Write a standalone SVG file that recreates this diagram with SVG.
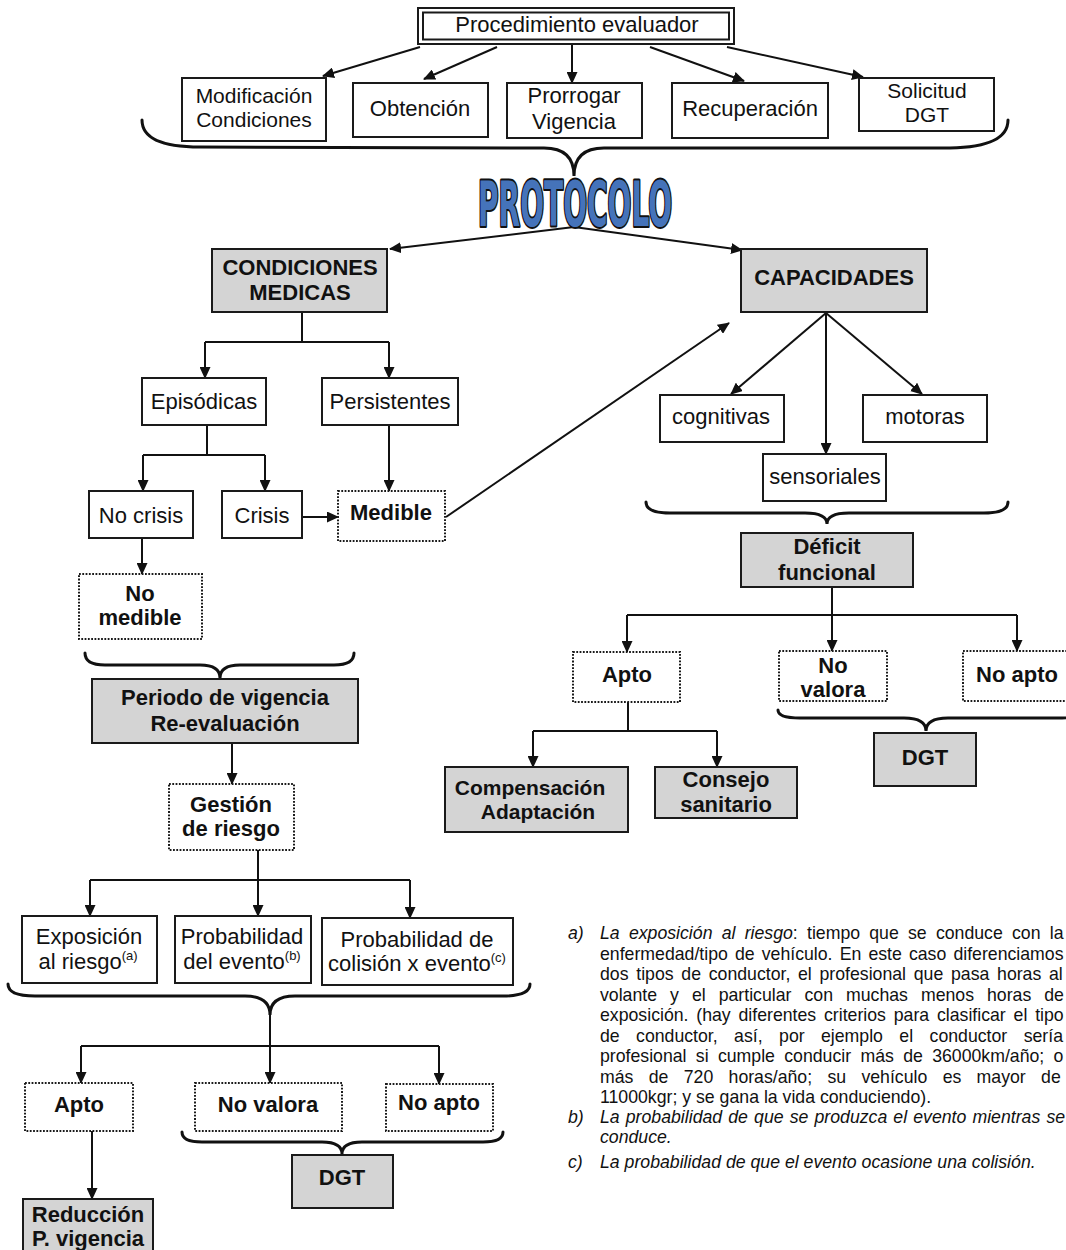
<svg xmlns="http://www.w3.org/2000/svg" width="1066" height="1250" viewBox="0 0 1066 1250">
  <style>
    .box { fill: #ffffff; stroke: #1a1a1a; stroke-width: 2; }
    .grey { fill: #d4d4d4; stroke: #1a1a1a; stroke-width: 2; }
    .dot { fill: #ffffff; stroke: #1a1a1a; stroke-width: 2; stroke-dasharray: 1.8 1.5; }
    .t { font-family: "Liberation Sans", Arial, sans-serif; font-size: 22px; fill: #111; text-anchor: middle; }
    .s { font-size: 21px; }
    .b { font-weight: bold; }
    .sup { font-size: 13px; }
    .ln { fill: none; stroke: #111; stroke-width: 2; }
    .ar { fill: none; stroke: #111; stroke-width: 2; marker-end: url(#head); }
    .brace { fill: none; stroke: #111; stroke-width: 3; stroke-linecap: round; }
    .note { font-family: "Liberation Sans", Arial, sans-serif; font-size: 17.7px; fill: #111; }
    .it { font-style: italic; }
  </style>
  <defs>
    <marker id="head" viewBox="0 0 12 11" refX="11" refY="5.5" markerWidth="12" markerHeight="11" markerUnits="userSpaceOnUse" orient="auto">
      <path d="M0,0 L12,5.5 L0,11 Z" fill="#111"/>
    </marker>
  </defs>
  <rect width="1066" height="1250" fill="#ffffff"/>

  <!-- connectors and braces -->
  <g id="connectors">
    <path class="ar" d="M420,47 L323,76"/>
    <path class="ar" d="M497,47 L424,79"/>
    <path class="ar" d="M572,44 L572,83"/>
    <path class="ar" d="M650,47 L744,81"/>
    <path class="ar" d="M727,47 L863,77"/>
    <path class="brace" d="M142,120 Q142,147 200,147 L544,148 Q574,148 574,176 Q574,148 604,148 L950,148 Q1008,147 1008,120"/>
    <path class="ar" d="M574,227 L390,249"/>
    <path class="ar" d="M574,227 L742,250"/>
    <path class="ln" d="M302,313 V342 M205,342 H389"/>
    <path class="ar" d="M205,342 V378"/>
    <path class="ar" d="M389,342 V378"/>
    <path class="ln" d="M207,425 V455 M143,455 H265"/>
    <path class="ar" d="M143,455 V491"/>
    <path class="ar" d="M265,455 V491"/>
    <path class="ar" d="M389,425 V491"/>
    <path class="ar" d="M302,517 H338"/>
    <path class="ar" d="M446,517 L729,323"/>
    <path class="ar" d="M142,538 V574"/>
    <path class="brace" d="M85,653 Q85,665 105,665 L200,665 Q220,665 220,678 Q220,665 240,665 L334,665 Q354,665 354,653"/>
    <path class="ar" d="M232,743 V784"/>
    <path class="ln" d="M258,850 V880 M90,880 H410"/>
    <path class="ar" d="M90,880 V916"/>
    <path class="ar" d="M258,880 V916"/>
    <path class="ar" d="M410,880 V918"/>
    <path class="brace" d="M8,984 Q8,996 35,996 L245,996 Q270,996 270,1015 Q270,996 295,996 L503,996 Q530,996 530,984"/>
    <path class="ln" d="M270,1015 V1046 M81,1046 H439"/>
    <path class="ar" d="M81,1046 V1083"/>
    <path class="ar" d="M270,1046 V1083"/>
    <path class="ar" d="M439,1046 V1084"/>
    <path class="brace" d="M182,1132 Q182,1142 202,1142 L322,1142 Q342,1142 342,1154 Q342,1142 362,1142 L483,1142 Q503,1142 503,1132"/>
    <path class="ar" d="M92,1131 V1199"/>
    <path class="ar" d="M826,313 L731,394"/>
    <path class="ar" d="M826,313 V454"/>
    <path class="ar" d="M826,313 L922,394"/>
    <path class="brace" d="M646,502 Q646,513 670,513 L805,513 Q827,513 827,524 Q827,513 849,513 L984,513 Q1008,513 1008,502"/>
    <path class="ln" d="M832,587 V615 M627,615 H1017"/>
    <path class="ar" d="M627,615 V652"/>
    <path class="ar" d="M832,615 V651"/>
    <path class="ar" d="M1017,615 V651"/>
    <path class="brace" d="M778,710 Q778,718 800,718 L904,718 Q926,718 926,731 Q926,718 948,718 L1058,718 Q1080,718 1080,710"/>
    <path class="ln" d="M628,702 V731 M533,731 H717"/>
    <path class="ar" d="M533,731 V767"/>
    <path class="ar" d="M717,731 V767"/>
  </g>

  <!-- top row -->
  <g id="n-procedimiento">
    <rect class="box" x="418" y="8" width="316" height="36"/>
    <rect class="box" x="423" y="12.5" width="306" height="27"/>
    <text class="t" x="577" y="32">Procedimiento evaluador</text>
  </g>
  <g id="n-modificacion">
    <rect class="box" x="182" y="78" width="144" height="63"/>
    <text class="t s" x="254" y="103">Modificación</text>
    <text class="t s" x="254" y="127">Condiciones</text>
  </g>
  <g id="n-obtencion">
    <rect class="box" x="353" y="83" width="135" height="54"/>
    <text class="t" x="420" y="116">Obtención</text>
  </g>
  <g id="n-prorrogar">
    <rect class="box" x="507" y="83" width="135" height="55"/>
    <text class="t" x="574" y="103">Prorrogar</text>
    <text class="t" x="574" y="129">Vigencia</text>
  </g>
  <g id="n-recuperacion">
    <rect class="box" x="672" y="83" width="156" height="55"/>
    <text class="t" x="750" y="116">Recuperación</text>
  </g>
  <g id="n-solicitud">
    <rect class="box" x="859" y="78" width="135" height="53"/>
    <text class="t s" x="927" y="98">Solicitud</text>
    <text class="t s" x="927" y="122">DGT</text>
  </g>

  <g id="n-protocolo">
    <text x="575" y="226" text-anchor="middle" font-family="'DejaVu Sans Condensed', 'DejaVu Sans', sans-serif" font-weight="bold" font-size="62" textLength="194" lengthAdjust="spacingAndGlyphs" fill="#4573ba" stroke="#111" stroke-width="4" stroke-linejoin="round" paint-order="stroke">PROTOCOLO</text>
  </g>

  <!-- medical conditions branch -->
  <g id="n-condiciones">
    <rect class="grey" x="212" y="249" width="175" height="63"/>
    <text class="t b" x="300" y="275">CONDICIONES</text>
    <text class="t b" x="300" y="300">MEDICAS</text>
  </g>
  <g id="n-episodicas">
    <rect class="box" x="142" y="378" width="124" height="47"/>
    <text class="t" x="204" y="409">Episódicas</text>
  </g>
  <g id="n-persistentes">
    <rect class="box" x="322" y="378" width="136" height="47"/>
    <text class="t" x="390" y="409">Persistentes</text>
  </g>
  <g id="n-nocrisis">
    <rect class="box" x="89" y="491" width="104" height="47"/>
    <text class="t" x="141" y="523">No crisis</text>
  </g>
  <g id="n-crisis">
    <rect class="box" x="222" y="491" width="80" height="47"/>
    <text class="t" x="262" y="523">Crisis</text>
  </g>
  <g id="n-medible">
    <rect class="dot" x="338" y="491" width="107" height="50"/>
    <text class="t b" x="391" y="520">Medible</text>
  </g>
  <g id="n-nomedible">
    <rect class="dot" x="79" y="574" width="123" height="65"/>
    <text class="t b" x="140" y="601">No</text>
    <text class="t b" x="140" y="625">medible</text>
  </g>
  <g id="n-periodo">
    <rect class="grey" x="92" y="679" width="266" height="64"/>
    <text class="t b" x="225" y="705">Periodo de vigencia</text>
    <text class="t b" x="225" y="731">Re-evaluación</text>
  </g>
  <g id="n-gestion">
    <rect class="dot" x="169" y="784" width="125" height="66"/>
    <text class="t b" x="231" y="812">Gestión</text>
    <text class="t b" x="231" y="836">de riesgo</text>
  </g>
  <g id="n-exposicion">
    <rect class="box" x="22" y="916" width="135" height="67"/>
    <text class="t" x="89" y="944">Exposición</text>
    <text class="t" x="88" y="969">al riesgo<tspan class="sup" dy="-9">(a)</tspan></text>
  </g>
  <g id="n-probevento">
    <rect class="box" x="175" y="916" width="136" height="67"/>
    <text class="t" x="242" y="944">Probabilidad</text>
    <text class="t" x="242" y="969">del evento<tspan class="sup" dy="-9">(b)</tspan></text>
  </g>
  <g id="n-probcolision">
    <rect class="box" x="322" y="918" width="191" height="67"/>
    <text class="t" x="417" y="947">Probabilidad de</text>
    <text class="t" x="417" y="971">colisión x evento<tspan class="sup" dy="-9">(c)</tspan></text>
  </g>
  <g id="n-apto-riesgo">
    <rect class="dot" x="25" y="1083" width="108" height="48"/>
    <text class="t b" x="79" y="1112">Apto</text>
  </g>
  <g id="n-novalora-riesgo">
    <rect class="dot" x="195" y="1083" width="147" height="48"/>
    <text class="t b" x="268" y="1112">No valora</text>
  </g>
  <g id="n-noapto-riesgo">
    <rect class="dot" x="386" y="1084" width="107" height="47"/>
    <text class="t b" x="439" y="1110">No apto</text>
  </g>
  <g id="n-dgt-riesgo">
    <rect class="grey" x="292" y="1155" width="101" height="53"/>
    <text class="t b" x="342" y="1185">DGT</text>
  </g>
  <g id="n-reduccion">
    <rect class="grey" x="23" y="1199" width="130" height="60"/>
    <text class="t b" x="88" y="1222">Reducción</text>
    <text class="t b" x="88" y="1246">P. vigencia</text>
  </g>

  <!-- capacities branch -->
  <g id="n-capacidades">
    <rect class="grey" x="741" y="249" width="186" height="63"/>
    <text class="t b" x="834" y="285">CAPACIDADES</text>
  </g>
  <g id="n-cognitivas">
    <rect class="box" x="660" y="395" width="124" height="47"/>
    <text class="t" x="721" y="424">cognitivas</text>
  </g>
  <g id="n-motoras">
    <rect class="box" x="863" y="395" width="124" height="47"/>
    <text class="t" x="925" y="424">motoras</text>
  </g>
  <g id="n-sensoriales">
    <rect class="box" x="763" y="454" width="123" height="47"/>
    <text class="t" x="825" y="484">sensoriales</text>
  </g>
  <g id="n-deficit">
    <rect class="grey" x="741" y="533" width="172" height="54"/>
    <text class="t b" x="827" y="554">Déficit</text>
    <text class="t b" x="827" y="580">funcional</text>
  </g>
  <g id="n-apto-deficit">
    <rect class="dot" x="573" y="652" width="107" height="50"/>
    <text class="t b" x="627" y="682">Apto</text>
  </g>
  <g id="n-novalora-deficit">
    <rect class="dot" x="779" y="651" width="108" height="50"/>
    <text class="t b" x="833" y="673">No</text>
    <text class="t b" x="833" y="697">valora</text>
  </g>
  <g id="n-noapto-deficit">
    <rect class="dot" x="963" y="651" width="110" height="50"/>
    <text class="t b" x="1017" y="682">No apto</text>
  </g>
  <g id="n-dgt-deficit">
    <rect class="grey" x="874" y="733" width="102" height="53"/>
    <text class="t b" x="925" y="765">DGT</text>
  </g>
  <g id="n-compensacion">
    <rect class="grey" x="445" y="767" width="183" height="65"/>
    <text class="t b s" x="530" y="795">Compensación</text>
    <text class="t b s" x="538" y="819">Adaptación</text>
  </g>
  <g id="n-consejo">
    <rect class="grey" x="655" y="767" width="142" height="51"/>
    <text class="t b" x="726" y="787">Consejo</text>
    <text class="t b" x="726" y="812">sanitario</text>
  </g>

  <!-- footnotes -->
  <g id="notes" class="note">
    <text class="it" x="568" y="939">a)</text>
    <text x="600" y="939" word-spacing="4.3"><tspan class="it">La exposición al riesgo</tspan>: tiempo que se conduce con la</text>
    <text x="600" y="960" word-spacing="2.2">enfermedad/tipo de vehículo. En este caso diferenciamos</text>
    <text x="600" y="980" word-spacing="2.8">dos tipos de conductor, el profesional que pasa horas al</text>
    <text x="600" y="1001" word-spacing="8.1">volante y el particular con muchas menos horas de</text>
    <text x="600" y="1021" word-spacing="2.9">exposición. (hay diferentes criterios para clasificar el tipo</text>
    <text x="600" y="1042" word-spacing="11.5">de conductor, así, por ejemplo el conductor sería</text>
    <text x="600" y="1062" word-spacing="4.4">profesional si cumple conducir más de 36000km/año; o</text>
    <text x="600" y="1083" word-spacing="10.4">más de 720 horas/año; su vehículo es mayor de</text>
    <text x="600" y="1103">11000kgr; y se gana la vida conduciendo).</text>
    <text class="it" x="568" y="1123">b)</text>
    <text class="it" x="600" y="1123" word-spacing="1.2">La probabilidad de que se produzca el evento mientras se</text>
    <text class="it" x="600" y="1143">conduce.</text>
    <text class="it" x="568" y="1168">c)</text>
    <text class="it" x="600" y="1168">La probabilidad de que el evento ocasione una colisión.</text>
  </g>
</svg>
